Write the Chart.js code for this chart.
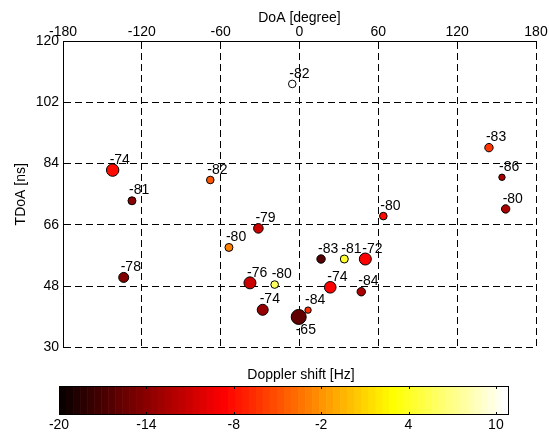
<!DOCTYPE html>
<html>
<head>
<meta charset="utf-8">
<script src="https://cdn.jsdelivr.net/npm/chart.js@4"></script>
<style>
  body { margin: 0; background: #fff; }
  canvas { position: absolute; left: 0; }
  #scatter { top: 0; }
  #colorbar { top: 360px; }
</style>
</head>
<body>
<canvas id="scatter" width="549" height="360"></canvas>
<canvas id="colorbar" width="549" height="73"></canvas>
<script>
// measured paths: direction of arrival, delay, power label, doppler shift, marker strength
const doa     = [-142.2, -127.5, -67.9, -5.5, 144.2, 154.1, 156.9, 63.8, -31.3, -53.7, -133.8, -37.7, -18.9, -28.0, -0.6, 6.5, 23.4, 47.0, 16.4, 34.1, 50.1];
const tdoa    = [82.1, 73.1, 79.2, 107.4, 88.7, 80.0, 70.7, 68.6, 65.0, 59.4, 50.6, 49.0, 48.5, 41.1, 39.0, 41.0, 47.7, 46.4, 56.0, 56.0, 56.0];
const power   = [-74, -81, -82, -82, -83, -86, -80, -80, -79, -80, -78, -76, -80, -74, -65, -84, -74, -84, -83, -81, -72];
const doppler = [-8.4, -14.2, -5.0, 10.9, -6.0, -12.7, -12.3, -8.0, -11.0, -3.0, -14.5, -11.0, 6.0, -13.6, -16.0, -6.5, -8.5, -12.7, -16.3, 4.4, -8.5];
const strength = [6.2, 4.0, 3.8, 3.8, 4.2, 3.2, 4.2, 3.8, 4.8, 4.0, 5.0, 6.0, 3.8, 5.5, 7.5, 3.2, 5.8, 4.2, 4.2, 4.0, 6.0];

const xTicks = [-180, -120, -60, 0, 60, 120, 180];
const yTicks = [30, 48, 66, 84, 102, 120];
const cbTicks = [-20, -14, -8, -2, 4, 10];
const cbMin = -20, cbMax = 10.9;

const FONT = "'Liberation Sans', Arial, Helvetica, sans-serif";
Chart.defaults.font.family = FONT;
Chart.defaults.font.size = 14;
Chart.defaults.color = '#000';

// MATLAB hot(64)
const hotIndex = v => Math.min(64, Math.max(1, Math.floor((v - cbMin) / (cbMax - cbMin) * 64) + 1));
const hotColor = k => {
    const r = Math.min(1, k / 24);
    const g = Math.min(1, Math.max(0, (k - 24) / 24));
    const b = Math.min(1, Math.max(0, (k - 48) / 16));
    return `rgb(${Math.round(r * 255)},${Math.round(g * 255)},${Math.round(b * 255)})`;
};

const labelPlugin = {
    id: 'powerLabels',
    afterDatasetsDraw(chart) {
        const { ctx, scales: { x, y } } = chart;
        ctx.save();
        ctx.font = '14px ' + FONT;
        ctx.fillStyle = '#000';
        ctx.textAlign = 'left';
        ctx.textBaseline = 'middle';
        power.forEach((p, i) => {
            const below = p === -65;
            const px = x.getPixelForValue(doa[i]) - 3;
            const py = y.getPixelForValue(tdoa[i] + (below ? -4 : 3));
            ctx.fillText(String(p), px, py);
        });
        ctx.restore();
    }
};

new Chart(document.getElementById('scatter'), {
    type: 'scatter',
    data: {
        datasets: [{
            data: doa.map((d, i) => ({ x: d, y: tdoa[i] })),
            backgroundColor: doppler.map(v => hotColor(hotIndex(v))),
            borderColor: '#000',
            borderWidth: 1,
            pointRadius: strength,
            pointHoverRadius: strength,
        }]
    },
    options: {
        responsive: false,
        animation: false,
        layout: { padding: { left: 0, right: 13, top: 0, bottom: 12 } },
        plugins: { legend: { display: false }, tooltip: { enabled: false } },
        scales: {
            x: {
                type: 'linear', position: 'top', min: -180, max: 180,
                afterBuildTicks: s => { s.ticks = xTicks.map(v => ({ value: v })); },
                afterFit: s => { s.height = 41; },
                ticks: { padding: 0, maxRotation: 0, autoSkip: false },
                grid: { color: '#000', drawTicks: false },
                border: { color: '#000', dash: [7, 4] },
                title: { display: true, text: 'DoA [degree]', padding: { top: 10, bottom: 0 } }
            },
            y: {
                type: 'linear', position: 'left', min: 30, max: 120,
                afterBuildTicks: s => { s.ticks = yTicks.map(v => ({ value: v })); },
                afterFit: s => { s.width = 63; },
                ticks: { padding: 4, autoSkip: false },
                grid: { color: '#000', drawTicks: false },
                border: { color: '#000', dash: [7, 4] },
                title: { display: true, text: 'TDoA [ns]', padding: { top: 13, bottom: 0 } }
            }
        }
    },
    plugins: [labelPlugin]
});

const colorbarPlugin = {
    id: 'hotBar',
    afterDraw(chart) {
        const { ctx, chartArea: a, scales: { x } } = chart;
        ctx.save();
        for (let k = 1; k <= 64; k++) {
            const v0 = cbMin + (cbMax - cbMin) * (k - 1) / 64;
            const v1 = cbMin + (cbMax - cbMin) * k / 64;
            const x0 = x.getPixelForValue(v0), x1 = x.getPixelForValue(v1);
            ctx.fillStyle = hotColor(k);
            ctx.fillRect(x0, a.top, x1 - x0 + 0.6, a.bottom - a.top);
        }
        ctx.strokeStyle = '#000';
        ctx.lineWidth = 1;
        ctx.strokeRect(Math.round(a.left) + 0.5, Math.round(a.top) + 0.5,
            Math.round(a.right - a.left) - 1, Math.round(a.bottom - a.top) - 1);
        ctx.beginPath();
        cbTicks.forEach(t => {
            const px = Math.round(x.getPixelForValue(t)) + 0.5;
            ctx.moveTo(px, a.top); ctx.lineTo(px, a.top + 3);
            ctx.moveTo(px, a.bottom); ctx.lineTo(px, a.bottom - 3);
        });
        ctx.stroke();
        ctx.fillStyle = '#000';
        ctx.font = '14px ' + FONT;
        ctx.textAlign = 'center';
        ctx.textBaseline = 'middle';
        ctx.fillText('Doppler shift [Hz]', a.left + 242, 15);
        ctx.restore();
    }
};

new Chart(document.getElementById('colorbar'), {
    type: 'scatter',
    data: { datasets: [] },
    options: {
        responsive: false,
        animation: false,
        layout: { padding: { left: 59, right: 40, top: 26, bottom: 0 } },
        plugins: { legend: { display: false }, tooltip: { enabled: false } },
        scales: {
            x: {
                type: 'linear', position: 'bottom', min: cbMin, max: cbMax,
                afterBuildTicks: s => { s.ticks = cbTicks.map(v => ({ value: v })); },
                afterFit: s => { s.height = 18; },
                ticks: { padding: 1.5, maxRotation: 0, autoSkip: false },
                grid: { display: false, drawTicks: false },
                border: { display: false }
            },
            y: { display: false }
        }
    },
    plugins: [colorbarPlugin]
});
</script>
</body>
</html>
